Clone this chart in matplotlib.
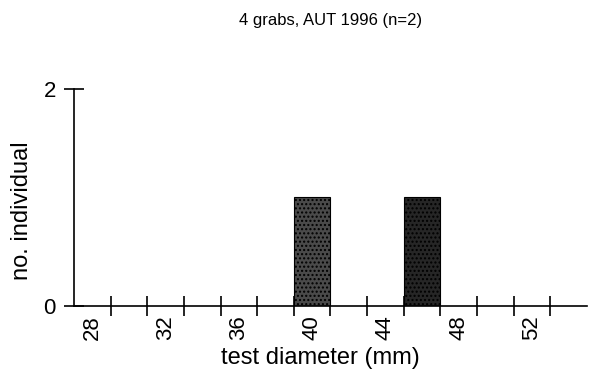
import matplotlib.pyplot as plt
import numpy as np

plt.rcParams['font.family'] = ['Liberation Sans', 'DejaVu Sans']

# histogram of test diameter, 2 mm bins
bin_centers = [28, 30, 32, 34, 36, 38, 40, 42, 44, 46, 48, 50, 52, 54]
counts = [0, 0, 0, 0, 0, 0, 1, 0, 0, 1, 0, 0, 0, 0]
bar_colors = ['#4a4a4a', '#262626']
label_ticks = [28, 32, 36, 40, 44, 48, 52]

fig = plt.figure(figsize=(5.97, 3.80), dpi=100)
ax = fig.add_axes([0.124, 0.195, 0.859, 0.571])

centers = np.array(bin_centers)
vals = np.array(counts)
nz = vals > 0
ax.bar(centers[nz], vals[nz], width=2, color=bar_colors, edgecolor='black',
       linewidth=0.8, hatch='....', zorder=2)

ax.set_xlim(27, 55)
ax.set_ylim(0, 2)

ax.spines['top'].set_visible(False)
ax.spines['right'].set_visible(False)
ax.spines['left'].set_linewidth(1.2)
ax.spines['bottom'].set_linewidth(1.2)

# minor ticks on bin edges, labels at bin centres
ax.set_xticks(label_ticks)
ax.set_xticklabels([str(t) for t in label_ticks], rotation=90, fontsize=16)
ax.tick_params(axis='x', which='major', length=0, pad=7)
ax.set_xticks(np.arange(29, 55, 2), minor=True)
ax.tick_params(axis='x', which='minor', direction='inout', length=14, width=1.2)

ax.set_yticks([0, 2])
ax.set_yticklabels(['0', '2'], fontsize=16)
ax.tick_params(axis='y', direction='inout', length=14, width=1.2, pad=6)

ax.set_xlabel('test diameter (mm)', fontsize=17)
ax.xaxis.set_label_coords(0.48, -0.19)
ax.set_ylabel('no. individual', fontsize=17)
ax.yaxis.set_label_coords(-0.08, 0.44)

fig.text(0.553, 0.947, '4 grabs, AUT 1996 (n=2)', ha='center', va='center', fontsize=12)

fig.savefig('out.png', dpi=100)
